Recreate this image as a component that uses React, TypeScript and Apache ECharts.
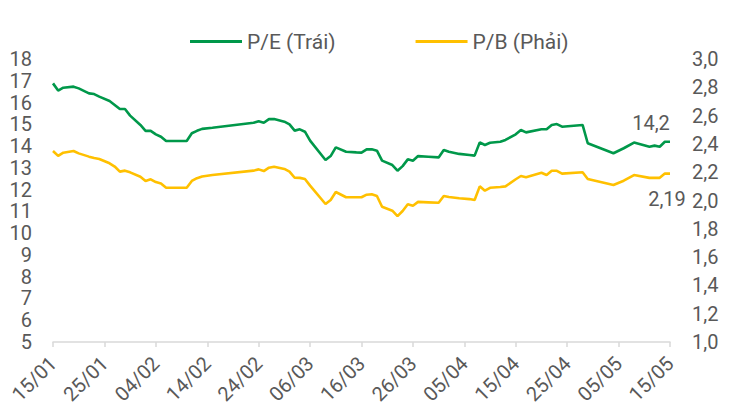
import React, { useEffect, useRef } from "react";
import * as echarts from "echarts";

const dates = [
  "15/01", "16/01", "17/01", "19/01", "20/01", "22/01", "23/01", "24/01", "26/01", "27/01",
  "28/01", "29/01", "30/01", "01/02", "02/02", "03/02", "04/02", "05/02", "06/02", "10/02",
  "11/02", "12/02", "13/02", "15/02", "23/02", "24/02", "25/02", "26/02", "27/02", "01/03",
  "02/03", "03/03", "04/03", "05/03", "06/03", "09/03", "10/03", "11/03", "13/03", "15/03",
  "16/03", "17/03", "18/03", "19/03", "20/03", "22/03", "23/03", "24/03", "25/03", "26/03",
  "27/03", "29/03", "31/03", "01/04", "02/04", "04/04", "06/04", "07/04", "08/04", "09/04",
  "10/04", "12/04", "13/04", "15/04", "16/04", "17/04", "20/04", "21/04", "22/04", "23/04",
  "24/04", "28/04", "29/04", "04/05", "06/05", "08/05", "11/05", "12/05", "13/05", "14/05",
  "15/05",
];

const peValues = [
  16.88, 16.55, 16.68, 16.73, 16.65, 16.42, 16.39, 16.27, 16.07, 15.89,
  15.7, 15.7, 15.4, 14.97, 14.7, 14.7, 14.54, 14.43, 14.23, 14.23,
  14.59, 14.7, 14.79, 14.84, 15.07, 15.14, 15.07, 15.24, 15.24, 15.12,
  15.0, 14.71, 14.77, 14.66, 14.25, 13.36, 13.54, 13.94, 13.74, 13.71,
  13.7, 13.85, 13.85, 13.79, 13.33, 13.13, 12.87, 13.08, 13.39, 13.33,
  13.54, 13.51, 13.48, 13.82, 13.74, 13.64, 13.59, 13.56, 14.17, 14.05,
  14.15, 14.2, 14.28, 14.54, 14.74, 14.63, 14.77, 14.77, 14.97, 15.01,
  14.89, 14.97, 14.13, 13.67, 13.9, 14.16, 13.97, 14.02, 13.97, 14.2,
  14.2,
];

const pbValues = [
  2.35, 2.315, 2.338, 2.35, 2.333, 2.31, 2.3, 2.293, 2.263, 2.24,
  2.204, 2.211, 2.199, 2.168, 2.138, 2.15, 2.13, 2.12, 2.09, 2.09,
  2.138, 2.158, 2.17, 2.18, 2.211, 2.22, 2.208, 2.232, 2.239, 2.223,
  2.204, 2.161, 2.16, 2.152, 2.105, 1.975, 2.004, 2.06, 2.023, 2.023,
  2.023, 2.041, 2.044, 2.032, 1.956, 1.928, 1.89, 1.926, 1.973, 1.963,
  1.99, 1.987, 1.984, 2.032, 2.025, 2.016, 2.01, 2.004, 2.1, 2.069,
  2.09, 2.095, 2.1, 2.15, 2.173, 2.165, 2.196, 2.18, 2.21, 2.21,
  2.19, 2.2, 2.152, 2.11, 2.14, 2.18, 2.16, 2.16, 2.16, 2.19,
  2.19,
];

const YEAR = 2025;
const START = Date.UTC(YEAR, 0, 15);
const DAY = 86400000;

const peName = "P/E (Trái)";
const pbName = "P/B (Phải)";
const peEndLabel = "14,2";
const pbEndLabel = "2,19";

function toDay(s: string): number {
  const [d, m] = s.split("/").map(Number);
  return Math.round((Date.UTC(YEAR, m - 1, d) - START) / DAY);
}

function dayLabel(v: number): string {
  const dt = new Date(START + v * DAY);
  const dd = String(dt.getUTCDate()).padStart(2, "0");
  const mm = String(dt.getUTCMonth() + 1).padStart(2, "0");
  return `${dd}/${mm}`;
}

const GREEN = "#00984A";
const YELLOW = "#FFC000";
const TEXT = "#595959";
const FONT = "Roboto";

export default function App() {
  const ref = useRef<HTMLDivElement>(null);

  useEffect(() => {
    if (!ref.current) return;
    const chart = echarts.init(ref.current, undefined, { renderer: "svg" });
    const days = dates.map(toDay);
    const peData = days.map((d, i) => [d, peValues[i]]);
    const pbData = days.map((d, i) => [d, pbValues[i]]);
    const last = days.length - 1;

    chart.setOption({
      animation: false,
      textStyle: { fontFamily: FONT },
      legend: {
        top: 26,
        left: 185,
        itemWidth: 52,
        itemHeight: 3,
        itemGap: 80,
        icon: "rect",
        textStyle: { color: TEXT, fontSize: 21, fontFamily: FONT },
        data: [peName, pbName],
      },
      grid: { left: 53, right: 59, top: 59, bottom: 65 },
      xAxis: {
        type: "value",
        min: 0,
        max: 120,
        interval: 10,
        axisLine: { show: true, lineStyle: { color: "#D9D9D9", width: 1.5 } },
        axisTick: { show: true, length: 5, lineStyle: { color: "#D9D9D9", width: 1.5 } },
        splitLine: { show: false },
        axisLabel: {
          rotate: 45,
          color: TEXT,
          fontSize: 20,
          fontFamily: FONT,
          margin: 18,
          formatter: (v: number) => dayLabel(v),
        },
      },
      yAxis: [
        {
          type: "value",
          min: 5,
          max: 18,
          interval: 1,
          axisLine: { show: false },
          axisTick: { show: false },
          splitLine: { show: false },
          axisLabel: { color: TEXT, fontSize: 20, fontFamily: FONT, margin: 21 },
        },
        {
          type: "value",
          min: 1.0,
          max: 3.0,
          interval: 0.2,
          position: "right",
          axisLine: { show: false },
          axisTick: { show: false },
          splitLine: { show: false },
          axisLabel: {
            color: TEXT,
            fontSize: 20,
            fontFamily: FONT,
            margin: 22,
            formatter: (v: number) => v.toFixed(1).replace(".", ","),
          },
        },
      ],
      series: [
        {
          name: peName,
          type: "line",
          yAxisIndex: 0,
          data: peData,
          showSymbol: false,
          symbol: "none",
          lineStyle: { color: GREEN, width: 2.6 },
          itemStyle: { color: GREEN },
          markPoint: {
            symbol: "circle",
            symbolSize: 0,
            data: [
              {
                coord: [days[last], peValues[last]],
                label: {
                  show: true,
                  position: "top",
                  distance: 5,
                  offset: [-19, -4],
                  formatter: peEndLabel,
                  color: TEXT,
                  fontSize: 20,
                  fontFamily: FONT,
                },
              },
            ],
          },
        },
        {
          name: pbName,
          type: "line",
          yAxisIndex: 1,
          data: pbData,
          showSymbol: false,
          symbol: "none",
          lineStyle: { color: YELLOW, width: 2.6 },
          itemStyle: { color: YELLOW },
          markPoint: {
            symbol: "circle",
            symbolSize: 0,
            data: [
              {
                coord: [days[last], pbValues[last]],
                label: {
                  show: true,
                  position: "bottom",
                  distance: 5,
                  offset: [-3, 10],
                  formatter: pbEndLabel,
                  color: TEXT,
                  fontSize: 20,
                  fontFamily: FONT,
                },
              },
            ],
          },
        },
      ],
    });

    return () => chart.dispose();
  }, []);

  return (
    <div
      ref={ref}
      style={{ position: "fixed", left: 0, top: 0, width: 729, height: 407, background: "#fff" }}
    />
  );
}
